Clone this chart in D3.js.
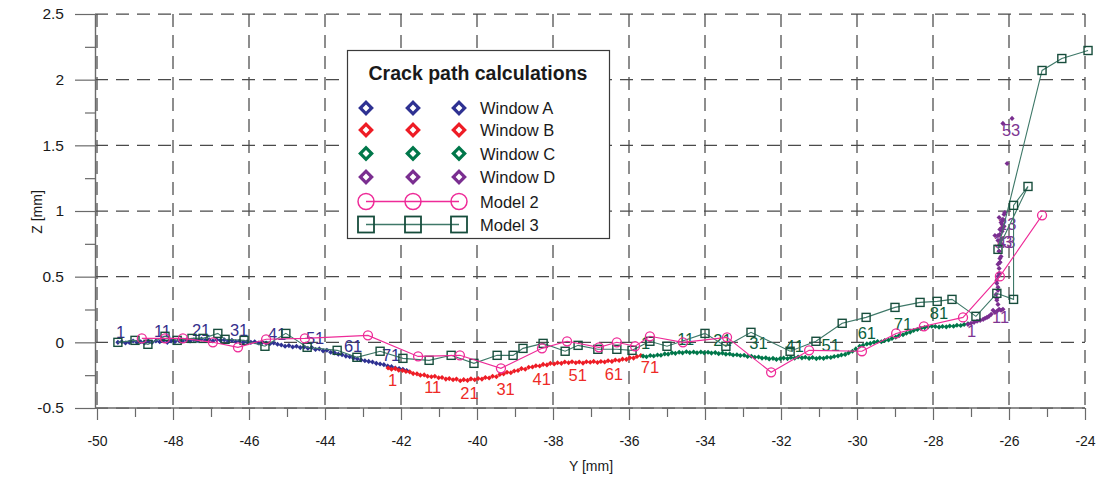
<!DOCTYPE html>
<html><head><meta charset="utf-8">
<script src="https://cdn.jsdelivr.net/npm/d3@7"></script>
<style>
html,body{margin:0;padding:0;background:#fff;}
svg{display:block;font-family:"Liberation Sans",Arial,sans-serif;}
</style></head>
<body><svg id="c" width="1101" height="477"></svg>
<script>
// ---------- data ----------
const xTicks = [-50,-48,-46,-44,-42,-40,-38,-36,-34,-32,-30,-28,-26,-24];
const xMinorTicks = [-49,-47,-45,-43,-41,-39,-37,-35,-33,-31,-29,-27,-25];
const yTicks = [-0.5,0,0.5,1,1.5,2,2.5];
const yMinorTicks = [-0.25,0.25,0.75,1.25,1.75,2.25];

const legendLabels = ["Window A","Window B","Window C","Window D","Model 2","Model 3"];

// Window A  [Y, Z]
const windowA = [[-49.45,0.000],[-49.35,0.005],[-49.25,-0.005],[-49.15,0.000],[-49.05,0.010],[-48.95,0.000],[-48.85,0.005],[-48.75,-0.005],[-48.65,0.010],[-48.55,0.000],
[-48.45,0.010],[-48.35,0.005],[-48.25,0.015],[-48.15,0.000],[-48.05,0.010],[-47.95,0.005],[-47.85,0.015],[-47.75,0.010],[-47.65,0.020],[-47.55,0.010],
[-47.45,0.020],[-47.35,0.015],[-47.25,0.025],[-47.15,0.015],[-47.05,0.020],[-46.95,0.010],[-46.85,0.020],[-46.75,0.015],[-46.65,0.020],[-46.55,0.010],
[-46.45,0.015],[-46.35,0.005],[-46.25,0.010],[-46.15,0.000],[-46.05,0.005],[-45.95,0.000],[-45.85,0.005],[-45.75,-0.005],[-45.65,0.000],[-45.55,-0.005],
[-45.45,-0.010],[-45.35,-0.005],[-45.25,-0.015],[-45.15,-0.020],[-45.05,-0.030],[-44.95,-0.025],[-44.85,-0.035],[-44.75,-0.030],[-44.65,-0.040],[-44.55,-0.035],
[-44.45,-0.045],[-44.35,-0.040],[-44.25,-0.055],[-44.15,-0.050],[-44.05,-0.065],[-43.95,-0.060],[-43.85,-0.075],[-43.75,-0.080],[-43.65,-0.090],[-43.55,-0.095],
[-43.45,-0.105],[-43.35,-0.110],[-43.25,-0.120],[-43.15,-0.125],[-43.05,-0.135],[-42.95,-0.140],[-42.85,-0.145],[-42.75,-0.150],[-42.65,-0.160],[-42.55,-0.165],
[-42.45,-0.170],[-42.35,-0.180],[-42.25,-0.185],[-42.15,-0.195],[-42.05,-0.200],[-41.95,-0.205],[-41.85,-0.215]];
const windowALabels = [1,11,21,31,41,51,61,71];

// Window B
const windowB = [[-42.34,-0.195],[-42.25,-0.205],[-42.15,-0.200],[-42.06,-0.212],[-41.96,-0.215],[-41.87,-0.222],[-41.77,-0.225],[-41.68,-0.238],[-41.58,-0.240],[-41.49,-0.250],
[-41.39,-0.248],[-41.30,-0.258],[-41.20,-0.262],[-41.11,-0.258],[-41.01,-0.270],[-40.92,-0.268],[-40.82,-0.280],[-40.73,-0.276],[-40.63,-0.285],[-40.54,-0.280],
[-40.44,-0.292],[-40.35,-0.284],[-40.25,-0.290],[-40.16,-0.278],[-40.06,-0.285],[-39.97,-0.275],[-39.87,-0.280],[-39.78,-0.268],[-39.68,-0.272],[-39.59,-0.258],
[-39.49,-0.262],[-39.40,-0.245],[-39.30,-0.240],[-39.21,-0.228],[-39.11,-0.232],[-39.02,-0.218],[-38.92,-0.215],[-38.83,-0.200],[-38.73,-0.205],[-38.64,-0.190],
[-38.54,-0.188],[-38.45,-0.178],[-38.35,-0.180],[-38.26,-0.168],[-38.16,-0.172],[-38.07,-0.160],[-37.97,-0.165],[-37.88,-0.155],[-37.78,-0.160],[-37.69,-0.150],
[-37.59,-0.156],[-37.50,-0.148],[-37.40,-0.155],[-37.31,-0.150],[-37.21,-0.158],[-37.12,-0.148],[-37.02,-0.152],[-36.93,-0.145],[-36.83,-0.153],[-36.74,-0.146],
[-36.64,-0.150],[-36.55,-0.140],[-36.45,-0.145],[-36.36,-0.135],[-36.26,-0.138],[-36.17,-0.128],[-36.07,-0.130],[-35.98,-0.118],[-35.88,-0.120],[-35.79,-0.108],
[-35.69,-0.100]];
const windowBLabels = [1,11,21,31,41,51,61,71];

// Window C
const windowC = [[-35.63,-0.105],[-35.54,-0.110],[-35.44,-0.100],[-35.35,-0.104],[-35.25,-0.096],[-35.16,-0.098],[-35.06,-0.088],[-34.97,-0.090],[-34.87,-0.080],[-34.78,-0.084],
[-34.68,-0.076],[-34.59,-0.080],[-34.49,-0.072],[-34.40,-0.078],[-34.30,-0.074],[-34.21,-0.080],[-34.11,-0.074],[-34.02,-0.080],[-33.92,-0.075],[-33.83,-0.082],
[-33.73,-0.078],[-33.64,-0.086],[-33.54,-0.082],[-33.45,-0.090],[-33.35,-0.088],[-33.26,-0.096],[-33.16,-0.094],[-33.07,-0.100],[-32.97,-0.098],[-32.88,-0.108],
[-32.78,-0.106],[-32.69,-0.114],[-32.59,-0.112],[-32.50,-0.120],[-32.40,-0.118],[-32.31,-0.126],[-32.21,-0.122],[-32.12,-0.130],[-32.02,-0.124],[-31.93,-0.120],
[-31.83,-0.124],[-31.74,-0.116],[-31.64,-0.120],[-31.55,-0.112],[-31.45,-0.118],[-31.36,-0.114],[-31.26,-0.122],[-31.17,-0.116],[-31.07,-0.124],[-30.98,-0.118],
[-30.88,-0.122],[-30.79,-0.114],[-30.69,-0.116],[-30.60,-0.108],[-30.50,-0.104],[-30.41,-0.096],[-30.31,-0.092],[-30.22,-0.080],[-30.12,-0.068],[-30.03,-0.050],
[-29.93,-0.030],[-29.84,-0.022],[-29.74,-0.012],[-29.65,-0.008],[-29.55,0.000],[-29.46,0.006],[-29.36,0.004],[-29.27,0.014],[-29.17,0.018],[-29.08,0.030],
[-28.98,0.040],[-28.89,0.052],[-28.79,0.058],[-28.70,0.070],[-28.60,0.078],[-28.51,0.090],[-28.41,0.098],[-28.32,0.106],[-28.22,0.112],[-28.13,0.118],
[-28.03,0.122],[-27.94,0.120],[-27.84,0.116],[-27.75,0.120],[-27.65,0.118],[-27.56,0.124],[-27.46,0.122],[-27.37,0.130],[-27.27,0.128],[-27.18,0.136],
[-27.08,0.142]];
const windowCLabels = [1,11,21,31,41,51,61,71,81];

// Window D
const windowD = [[-27.08,0.137],[-27.00,0.145],[-26.92,0.152],[-26.84,0.160],[-26.76,0.167],[-26.68,0.175],[-26.63,0.183],[-26.58,0.190],[-26.53,0.198],[-26.47,0.213],
[-26.42,0.244],[-26.37,0.228],[-26.32,0.236],[-26.26,0.251],[-26.21,0.244],[-26.16,0.251],[-26.29,0.289],[-26.32,0.335],[-26.29,0.396],[-26.32,0.449],
[-26.29,0.502],[-26.26,0.563],[-26.26,0.951],[-26.24,0.609],[-26.21,0.654],[-26.26,0.693],[-26.24,0.738],[-26.29,0.776],[-26.24,0.822],[-26.18,0.868],
[-26.21,0.913],[-26.13,0.974],[-26.37,0.814],[-26.32,0.320],[-26.34,0.365],[-26.29,0.419],[-26.32,0.472],[-26.26,0.525],[-26.29,0.594],[-26.24,0.639],
[-26.26,0.693],[-26.21,0.753],[-26.29,0.814],[-26.24,0.860],[-26.18,0.898],[-26.16,0.936],[-26.11,0.989],[-26.05,1.362],[-26.13,0.883],[-26.21,0.784],
[-26.18,0.845],[-26.16,0.928],[-26.16,1.667],[-25.92,1.705],[-26.24,0.609]];
const windowDLabels = [1,11,23,33,43,53];

// Model 2
const model2 = [[-48.82,0.030],[-48.21,0.030],[-47.74,0.030],[-46.95,0.000],[-46.29,-0.038],[-45.55,0.023],[-44.53,0.030],[-42.87,0.053],[-41.55,-0.107],[-40.45,-0.099],
[-39.37,-0.198],[-38.29,-0.046],[-37.63,0.008],[-36.79,-0.038],[-36.32,0.000],[-35.84,-0.030],[-35.45,0.046],[-34.58,0.000],[-33.42,0.038],[-32.26,-0.228],
[-31.26,-0.061],[-29.87,-0.068],[-28.97,0.068],[-28.24,0.122],[-27.21,0.190],[-26.24,0.502],[-25.13,0.967]];

// Model 3
const model3 = [[-49.45,0.000],[-49.00,0.015],[-48.66,-0.015],[-48.21,0.046],[-47.89,0.015],[-47.50,0.030],[-47.21,0.030],[-46.82,0.068],[-46.63,0.023],[-46.13,0.015],
[-45.58,-0.030],[-45.03,0.068],[-44.47,-0.038],[-43.68,-0.061],[-43.16,-0.114],[-42.55,-0.068],[-41.95,-0.122],[-41.26,-0.137],[-40.68,-0.099],[-40.08,-0.160],
[-39.47,-0.099],[-39.05,-0.099],[-38.79,-0.046],[-38.26,-0.008],[-37.68,-0.068],[-37.34,-0.023],[-36.82,-0.053],[-36.32,-0.053],[-35.92,-0.061],[-35.45,0.008],
[-35.00,-0.030],[-34.00,0.068],[-33.45,-0.030],[-32.79,0.076],[-31.76,-0.068],[-31.08,0.008],[-30.39,0.145],[-29.76,0.190],[-29.00,0.266],[-28.34,0.304],
[-27.89,0.312],[-27.50,0.327],[-26.87,0.198],[-26.32,0.373],[-25.88,0.327],[-25.88,1.043],[-25.50,1.187],[-26.29,0.708],[-25.13,2.070],[-24.61,2.161],
[-23.92,2.222]];

// ---------- styles ----------
const col = {A:"#2e3192", B:"#ee1c25", C:"#00774a", D:"#7a2e90", M2:"#ee2b98", M3:"#174d3c", M3line:"#3e7868"};
const labCol = {A:"#35308c", B:"#ee2a26", C:"#0c5f3c", D:"#7d3592"};

const svg = d3.select("#c");
const x = d3.scaleLinear().domain([-50,-24]).range([97,1085]);
const y = d3.scaleLinear().domain([-0.5,2.5]).range([408,14]);
const fmt = d => String(d);

// grid
const grid = svg.append("g").attr("stroke","#4a4a4a").attr("stroke-width",1.25).attr("stroke-dasharray","13,8").attr("fill","none");
grid.selectAll("line.v").data(xTicks).join("line").attr("class","v")
  .attr("x1",d=>x(d)).attr("x2",d=>x(d)).attr("y1",y(2.5)).attr("y2",y(-0.5));
grid.selectAll("line.h").data(yTicks).join("line").attr("class","h")
  .attr("x1",95).attr("x2",x(-24)).attr("y1",d=>y(d)).attr("y2",d=>y(d));

// axes
const axL = svg.append("g").attr("transform","translate(95,0)")
  .call(d3.axisLeft(y).tickValues(yTicks).tickSize(20).tickSizeOuter(0).tickPadding(11).tickFormat(fmt));
const axLm = svg.append("g").attr("transform","translate(95,0)")
  .call(d3.axisLeft(y).tickValues(yMinorTicks).tickSize(10).tickSizeOuter(0).tickFormat(""));
const axB = svg.append("g").attr("transform",`translate(0,${y(-0.5)})`)
  .call(d3.axisBottom(x).tickValues(xTicks).tickSize(12).tickSizeOuter(0).tickPadding(16).tickFormat(fmt));
const axBm = svg.append("g").attr("transform",`translate(0,${y(-0.5)})`)
  .call(d3.axisBottom(x).tickValues(xMinorTicks).tickSize(9).tickSizeOuter(0).tickFormat(""));
[axL,axLm,axB,axBm].forEach(g=>{
  g.select(".domain").attr("stroke","#6a6a6a").attr("stroke-width",1.4);
  g.selectAll(".tick line").attr("stroke","#6a6a6a").attr("stroke-width",1.2);
  g.selectAll(".tick text").attr("fill","#1a1a1a").style("font-family",'"Liberation Sans",Arial,sans-serif');
});
axL.selectAll(".tick text").style("font-size","15.5px");
axB.selectAll(".tick text").style("font-size","14px");
axLm.select(".domain").remove(); axBm.select(".domain").remove();
axB.select(".domain").attr("d",`M95,0H${x(-24)}`);

svg.append("text").attr("x",591).attr("y",471).attr("text-anchor","middle")
  .style("font-size","14px").attr("fill","#1a1a1a").text("Y [mm]");
svg.append("text").attr("transform","translate(42,212) rotate(-90)").attr("text-anchor","middle")
  .style("font-size","14px").attr("fill","#1a1a1a").text("Z [mm]");

// window dots
const dot = d3.symbol(d3.symbolSquare, 13);
const windows = [[windowA,"A"],[windowB,"B"],[windowC,"C"],[windowD,"D"]];
windows.forEach(([data,k])=>{
  svg.append("g").selectAll("path").data(data).join("path")
    .attr("d",dot).attr("fill",col[k])
    .attr("transform",d=>`translate(${x(d[0])},${y(d[1])}) rotate(45)`);
});

// window labels
const labelSpec = [[windowA,windowALabels,"A",-2,-4],[windowB,windowBLabels,"B",0,18],[windowC,windowCLabels,"C",-2,-7],[windowD,windowDLabels,"D",-1,13]];
labelSpec.forEach(([data,labs,k,dx,dy])=>{
  svg.append("g").selectAll("text").data(labs).join("text")
    .attr("x",n=>x(data[n-1][0])+dx).attr("y",n=>y(data[n-1][1])+dy)
    .attr("fill",labCol[k]).style("font-size","16.5px").text(n=>n);
});

// Model 3
const line = d3.line().x(d=>x(d[0])).y(d=>y(d[1]));
svg.append("path").attr("d",line(model3)).attr("fill","none").attr("stroke",col.M3line).attr("stroke-width",1.1);
svg.append("g").selectAll("rect").data(model3).join("rect")
  .attr("x",d=>x(d[0])-4).attr("y",d=>y(d[1])-4).attr("width",8).attr("height",8)
  .attr("fill","none").attr("stroke",col.M3).attr("stroke-width",1.4);

// Model 2
svg.append("path").attr("d",line(model2)).attr("fill","none").attr("stroke",col.M2).attr("stroke-width",1.1);
svg.append("g").selectAll("circle").data(model2).join("circle")
  .attr("cx",d=>x(d[0])).attr("cy",d=>y(d[1])).attr("r",4.5)
  .attr("fill","none").attr("stroke",col.M2).attr("stroke-width",1.3);

// legend
const lg = svg.append("g");
lg.append("rect").attr("x",347.5).attr("y",50.5).attr("width",262).attr("height",188)
  .attr("fill","#fff").attr("stroke","#3a3a3a").attr("stroke-width",1.2);
lg.append("text").attr("x",478).attr("y",80).attr("text-anchor","middle")
  .style("font-size","19.5px").style("font-weight","bold").attr("fill","#1a1a1a").text("Crack path calculations");
const rowsY = [108,130,153.5,177,201.5,224.5];
const colsX = [366,413,459];
const keys = ["A","B","C","D"];
keys.forEach((k,i)=>{
  colsX.forEach(cx=>{
    lg.append("path").attr("d",d3.symbol(d3.symbolSquare,64)())
      .attr("transform",`translate(${cx},${rowsY[i]}) rotate(45)`)
      .attr("fill","#fff").attr("stroke",col[k]).attr("stroke-width",3.2);
  });
});
lg.append("line").attr("x1",colsX[0]).attr("x2",colsX[2]).attr("y1",rowsY[4]).attr("y2",rowsY[4]).attr("stroke",col.M2).attr("stroke-width",1.3);
colsX.forEach(cx=>lg.append("circle").attr("cx",cx).attr("cy",rowsY[4]).attr("r",8).attr("fill","none").attr("stroke",col.M2).attr("stroke-width",1.5));
lg.append("line").attr("x1",colsX[0]).attr("x2",colsX[2]).attr("y1",rowsY[5]).attr("y2",rowsY[5]).attr("stroke",col.M3line).attr("stroke-width",1.3);
colsX.forEach(cx=>lg.append("rect").attr("x",cx-8).attr("y",rowsY[5]-8).attr("width",16).attr("height",16).attr("fill","none").attr("stroke",col.M3).attr("stroke-width",1.8));
lg.selectAll("text.item").data(legendLabels).join("text").attr("class","item")
  .attr("x",480).attr("y",(d,i)=>rowsY[i]+6).style("font-size","16.5px").attr("fill","#1a1a1a").text(d=>d);
</script></body></html>
